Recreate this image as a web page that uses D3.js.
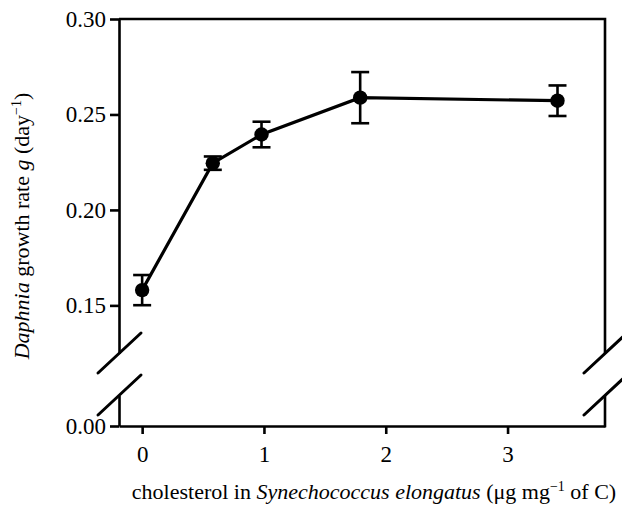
<!DOCTYPE html>
<html lang="en">
<head>
    <meta charset="UTF-8">
    <title>Daphnia growth rate</title>
    <script src="https://cdn.jsdelivr.net/npm/d3@7/dist/d3.min.js"></script>
    <style>
        body {
          margin: 0;
          background: #fff;
        }
        text {
          font-family: "Liberation Serif", "Times New Roman", serif;
          fill: #000;
        }
    </style>
</head>
<body>
    <script>
        // cholesterol content (x) vs growth rate (mean +/- error)
        let cholesterol = [0, 0.58, 0.98, 1.79, 3.41];
        let growth = [0.158, 0.2245, 0.2395, 0.2588, 0.2572];
        let err = [0.0079, 0.0035, 0.0067, 0.0134, 0.0080];
        let xTicks = [0, 1, 2, 3];
        let yTicksUpper = [0.15, 0.20, 0.25, 0.30];
        let yTicksLower = [0.00];

        let w = 622;
        let h = 508;

        let svg = d3.select('body')
                    .append('svg')
                    .attr('width', w)
                    .attr('height', h);

        let padL = 119, padR = 605, padT = 19, padB = 426;
        let breakTop = 353.5, breakBot = 395.5;
        let serif = '"Liberation Serif", "Times New Roman", serif';

        let x = d3.scaleLinear().domain([-0.19, 3.8]).range([padL, padR]);
        let yUp = d3.scaleLinear().domain([0.1248, 0.30]).range([breakTop, padT]);
        let yLo = d3.scaleLinear().domain([0, 0.016]).range([padB, breakBot]);

        function styleAxis(g) {
            g.attr('font-family', serif).attr('font-size', 23);
            g.selectAll('path, line').attr('stroke', '#000').attr('stroke-width', 2.6);
            g.selectAll('text').style('font-size', '23px').style('font-family', serif);
        }

        // upper y axis segment
        svg.append('g')
           .attr('transform', 'translate(' + padL + ',0)')
           .call(d3.axisLeft(yUp).tickValues(yTicksUpper).tickFormat(d3.format('.2f'))
                   .tickSize(9).tickSizeOuter(0).tickPadding(4))
           .call(styleAxis);

        // lower y axis segment
        svg.append('g')
           .attr('transform', 'translate(' + padL + ',0)')
           .call(d3.axisLeft(yLo).tickValues(yTicksLower).tickFormat(d3.format('.2f'))
                   .tickSize(9).tickSizeOuter(0).tickPadding(4))
           .call(styleAxis);

        // x axis
        svg.append('g')
           .attr('transform', 'translate(0,' + padB + ')')
           .call(d3.axisBottom(x).tickValues(xTicks).tickFormat(d3.format('d'))
                   .tickSize(8).tickSizeOuter(0).tickPadding(12))
           .call(styleAxis);

        // frame: top and right side (with break)
        let frame = svg.append('g').attr('stroke', '#000').attr('stroke-width', 2.6).attr('fill', 'none');
        frame.append('path')
             .attr('d', 'M' + padL + ',' + padT + 'H' + padR + 'V' + breakTop);
        frame.append('path')
             .attr('d', 'M' + padR + ',' + breakBot + 'V' + (padB + 1.3));

        // break marks
        let slashes = svg.append('g').attr('stroke', '#000').attr('stroke-width', 3)
                         .attr('stroke-linecap', 'round');
        [padL, padR].forEach(function(cx) {
            [breakTop, breakBot].forEach(function(cy) {
                slashes.append('line')
                       .attr('x1', cx - 21).attr('y1', cy + 19.5)
                       .attr('x2', cx + 22).attr('y2', cy - 20.5);
            });
        });

        // data line
        let pts = cholesterol.map(function(d, i) { return [x(d), yUp(growth[i])]; });
        svg.append('path')
           .attr('d', d3.line()(pts))
           .attr('fill', 'none')
           .attr('stroke', '#000')
           .attr('stroke-width', 3.2);

        // error bars
        let eb = svg.append('g').attr('stroke', '#000').attr('stroke-width', 2.6);
        cholesterol.forEach(function(d, i) {
            let cx = x(d), y1 = yUp(growth[i] + err[i]), y2 = yUp(growth[i] - err[i]);
            eb.append('line').attr('x1', cx).attr('x2', cx).attr('y1', y1).attr('y2', y2);
            eb.append('line').attr('x1', cx - 9).attr('x2', cx + 9).attr('y1', y1).attr('y2', y1);
            eb.append('line').attr('x1', cx - 9).attr('x2', cx + 9).attr('y1', y2).attr('y2', y2);
        });

        svg.selectAll('circle.pt')
           .data(pts)
           .enter()
           .append('circle')
           .attr('class', 'pt')
           .attr('cx', function(d) { return d[0]; })
           .attr('cy', function(d) { return d[1]; })
           .attr('r', 7.2)
           .attr('fill', '#000');

        // x title
        let xt = svg.append('text')
                    .attr('x', 374)
                    .attr('y', 499)
                    .attr('text-anchor', 'middle')
                    .style('font-family', serif)
                    .style('font-size', '22px');
        xt.append('tspan').text('cholesterol in ');
        xt.append('tspan').style('font-style', 'italic').text('Synechococcus elongatus');
        xt.append('tspan').text(' (μg mg');
        xt.append('tspan').attr('dy', -8).style('font-size', '14px').text('−1');
        xt.append('tspan').attr('dy', 8).text(' of C)');

        // y title
        let yt = svg.append('text')
                    .attr('transform', 'translate(29,226) rotate(-90)')
                    .attr('text-anchor', 'middle')
                    .style('font-family', serif)
                    .style('font-size', '22px');
        yt.append('tspan').style('font-style', 'italic').text('Daphnia');
        yt.append('tspan').text(' growth rate ');
        yt.append('tspan').style('font-style', 'italic').text('g');
        yt.append('tspan').text(' (day');
        yt.append('tspan').attr('dy', -8).style('font-size', '14px').text('−1');
        yt.append('tspan').attr('dy', 8).text(')');
    </script>
</body>
</html>
